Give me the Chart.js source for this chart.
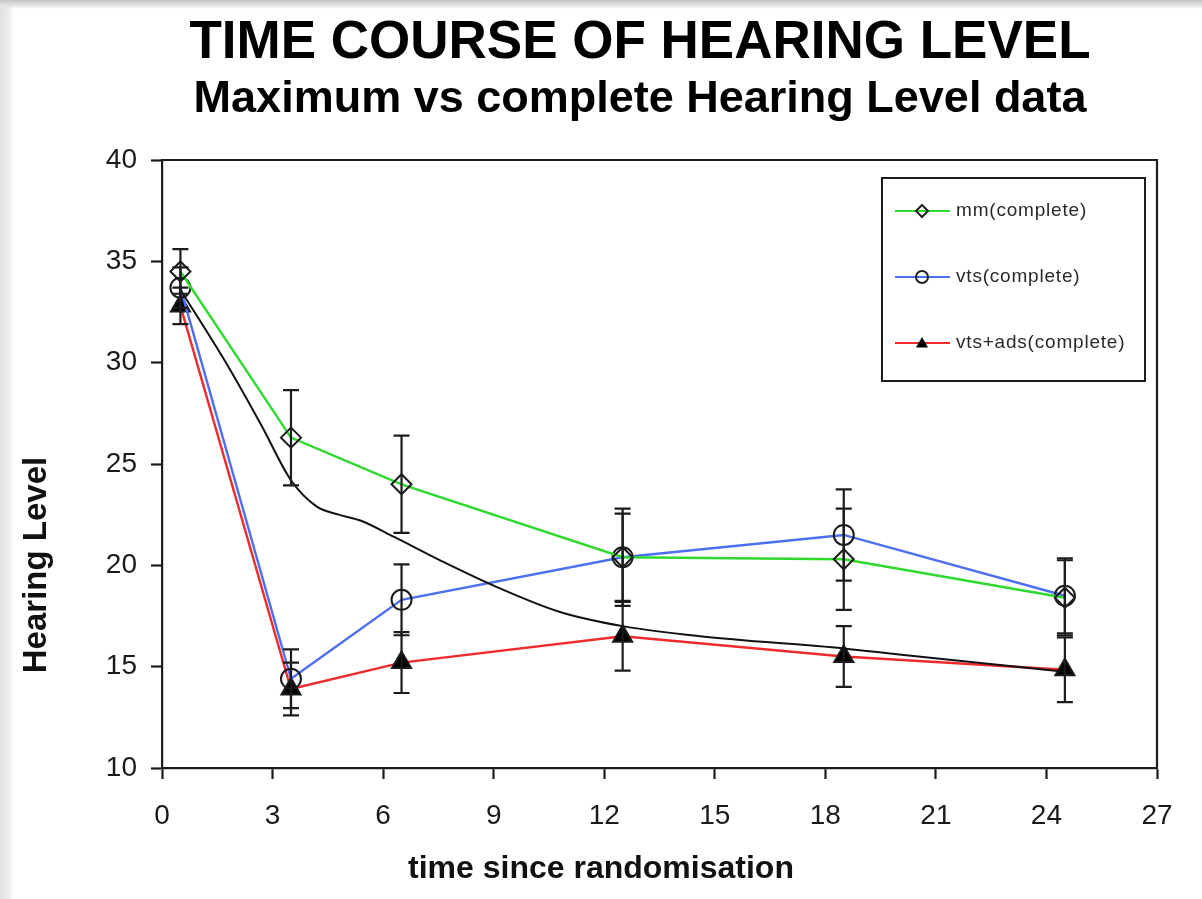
<!DOCTYPE html>
<html>
<head>
<meta charset="utf-8">
<script src="https://cdn.jsdelivr.net/npm/chart.js@4"></script>
<style>
  html, body { margin: 0; padding: 0; }
  body {
    width: 1202px; height: 899px; overflow: hidden;
    background:
      linear-gradient(to bottom, #c4c4c4 0px, #e2e2e2 5px, rgba(255,255,255,0) 9px),
      linear-gradient(to right, #e0e0e0 0px, #eeeeee 9px, #ffffff 14px);
  }
  canvas { display: block; }
</style>
</head>
<body>
<canvas id="hearingChart" width="1202" height="899"></canvas>
<script>
const FONT = "'Liberation Sans', Arial, sans-serif";

const times = [0.5, 3.5, 6.5, 12.5, 18.5, 24.5];

const mmComplete = [34.5, 26.3, 24.0, 20.4, 20.3, 18.4];
const mmErr = [1.1, 2.35, 2.4, 2.15, 2.5, 1.85];

const vtsComplete = [33.7, 14.4, 18.3, 20.4, 21.5, 18.5];
const vtsErr = [1.0, 1.45, 1.75, 2.4, 2.25, 1.85];

const vtsAdsComplete = [32.8, 13.9, 15.2, 16.5, 15.5, 14.85];
const vtsAdsErr = [0.9, 1.3, 1.5, 1.7, 1.5, 1.6];

// smoothed overall curve (black, no legend entry)
const smoothX = [0.5, 1.8, 2.7, 3.5, 4.2, 4.8, 5.4, 6.3, 7.6, 9, 10.8, 12.5, 14.6, 18.5, 20, 24.5];
const smoothY = [33.6, 29.8, 26.9, 24.2, 22.9, 22.5, 22.2, 21.4, 20.2, 19.0, 17.7, 17.0, 16.5, 15.9, 15.6, 14.75];

const xTicks = [0, 3, 6, 9, 12, 15, 18, 21, 24, 27];
const yTicks = [10, 15, 20, 25, 30, 35, 40];

const seriesNames = ["mm(complete)", "vts(complete)", "vts+ads(complete)"];
const seriesColors = ["#2fd92f", "#4d6ff2", "#ef2b2b"];
const seriesMarkers = ["rectRot", "circle", "triangle"];

function toPoints(xs, ys) {
  return xs.map((x, i) => ({ x: x, y: ys[i] }));
}

const errorSets = [mmErr, vtsErr, vtsAdsErr];
const valueSets = [mmComplete, vtsComplete, vtsAdsComplete];

const errorBars = {
  id: "errorBars",
  afterDatasetsDraw(chart) {
    const ctx = chart.ctx;
    const xs = chart.scales.x;
    const ys = chart.scales.y;
    ctx.save();
    ctx.strokeStyle = "#1c1c1c";
    ctx.lineWidth = 2.2;
    valueSets.forEach((vals, s) => {
      vals.forEach((v, i) => {
        const e = errorSets[s][i];
        const px = xs.getPixelForValue(times[i]);
        const top = ys.getPixelForValue(v + e);
        const bot = ys.getPixelForValue(v - e);
        ctx.beginPath();
        ctx.moveTo(px, top);
        ctx.lineTo(px, bot);
        ctx.moveTo(px - 8, top);
        ctx.lineTo(px + 8, top);
        ctx.moveTo(px - 8, bot);
        ctx.lineTo(px + 8, bot);
        ctx.stroke();
      });
    });
    ctx.restore();
  },
};

function drawMarker(ctx, style, x, y, r) {
  ctx.beginPath();
  if (style === "rectRot") {
    ctx.moveTo(x, y - r);
    ctx.lineTo(x + r, y);
    ctx.lineTo(x, y + r);
    ctx.lineTo(x - r, y);
    ctx.closePath();
    ctx.stroke();
  } else if (style === "circle") {
    ctx.arc(x, y, r, 0, Math.PI * 2);
    ctx.stroke();
  } else {
    ctx.moveTo(x, y - r);
    ctx.lineTo(x + r, y + r * 0.75);
    ctx.lineTo(x - r, y + r * 0.75);
    ctx.closePath();
    ctx.fill();
  }
}

const decorations = {
  id: "decorations",
  afterDraw(chart) {
    const ctx = chart.ctx;
    const area = chart.chartArea;
    ctx.save();

    // frame top + right
    ctx.strokeStyle = "#1c1c1c";
    ctx.lineWidth = 2.2;
    ctx.beginPath();
    ctx.moveTo(area.left, area.top);
    ctx.lineTo(area.right, area.top);
    ctx.lineTo(area.right, area.bottom);
    ctx.stroke();

    // titles
    ctx.fillStyle = "#000";
    ctx.textAlign = "center";
    ctx.textBaseline = "alphabetic";
    ctx.font = "bold 53px " + FONT;
    ctx.fillText("TIME COURSE OF HEARING LEVEL", 640, 58);
    ctx.font = "bold 45px " + FONT;
    ctx.fillText("Maximum vs complete Hearing Level data", 640, 112);

    // axis titles
    ctx.font = "bold 32px " + FONT;
    ctx.fillStyle = "#111";
    ctx.fillText("time since randomisation", 601, 878);
    ctx.save();
    ctx.translate(46, 565);
    ctx.rotate(-Math.PI / 2);
    ctx.font = "bold 33px " + FONT;
    ctx.fillText("Hearing Level", 0, 0);
    ctx.restore();

    // legend box
    ctx.lineWidth = 2;
    ctx.strokeStyle = "#1c1c1c";
    ctx.strokeRect(882, 178, 263, 203);
    ctx.textAlign = "left";
    ctx.textBaseline = "middle";
    ctx.font = "19px " + FONT;
    ctx.letterSpacing = "0.8px";
    const rows = [211, 277, 343];
    seriesNames.forEach((name, i) => {
      const y = rows[i];
      ctx.strokeStyle = seriesColors[i];
      ctx.lineWidth = 2;
      ctx.beginPath();
      ctx.moveTo(895, y);
      ctx.lineTo(950, y);
      ctx.stroke();
      ctx.strokeStyle = "#222";
      ctx.fillStyle = "#000";
      drawMarker(ctx, seriesMarkers[i], 922, y, 6);
      ctx.fillStyle = "#2a2a2a";
      ctx.fillText(name, 956, y);
    });
    ctx.restore();
  },
};

const lineSeries = seriesNames.map((name, i) => ({
  label: name,
  data: toPoints(times, valueSets[i]),
  borderColor: seriesColors[i],
  borderWidth: 2.4,
  pointStyle: seriesMarkers[i],
  pointRadius: i === 2 ? 11 : 10,
  pointBorderColor: "#1c1c1c",
  pointBorderWidth: 2,
  pointBackgroundColor: i === 2 ? "#000" : "rgba(0,0,0,0)",
  tension: 0,
  order: 2,
}));

const smoothSeries = {
  label: "smoothed",
  data: toPoints(smoothX, smoothY),
  borderColor: "#111",
  borderWidth: 2,
  pointRadius: 0,
  cubicInterpolationMode: "monotone",
  order: 1,
};

new Chart(document.getElementById("hearingChart"), {
  type: "line",
  data: { datasets: [...lineSeries, smoothSeries] },
  options: {
    responsive: false,
    animation: false,
    layout: { padding: { top: 160, right: 45, left: 0, bottom: 0 } },
    plugins: {
      legend: { display: false },
      title: { display: false },
      tooltip: { enabled: false },
    },
    scales: {
      x: {
        type: "linear",
        min: 0,
        max: 27,
        afterFit: (scale) => { scale.height = 131; },
        afterBuildTicks: (scale) => { scale.ticks = xTicks.map((v) => ({ value: v })); },
        grid: { drawOnChartArea: false, tickLength: 11, tickColor: "#1c1c1c", tickWidth: 2.2 },
        border: { color: "#1c1c1c", width: 2.2 },
        ticks: { color: "#1a1a1a", font: { family: FONT, size: 28 }, padding: 20, maxRotation: 0 },
      },
      y: {
        min: 10,
        max: 40,
        afterFit: (scale) => { scale.width = 162; },
        afterBuildTicks: (scale) => { scale.ticks = yTicks.map((v) => ({ value: v })); },
        grid: { drawOnChartArea: false, tickLength: 11, tickColor: "#1c1c1c", tickWidth: 2.2 },
        border: { color: "#1c1c1c", width: 2.2 },
        ticks: { color: "#1a1a1a", font: { family: FONT, size: 28 }, padding: 14 },
      },
    },
  },
  plugins: [errorBars, decorations],
});
</script>
</body>
</html>
